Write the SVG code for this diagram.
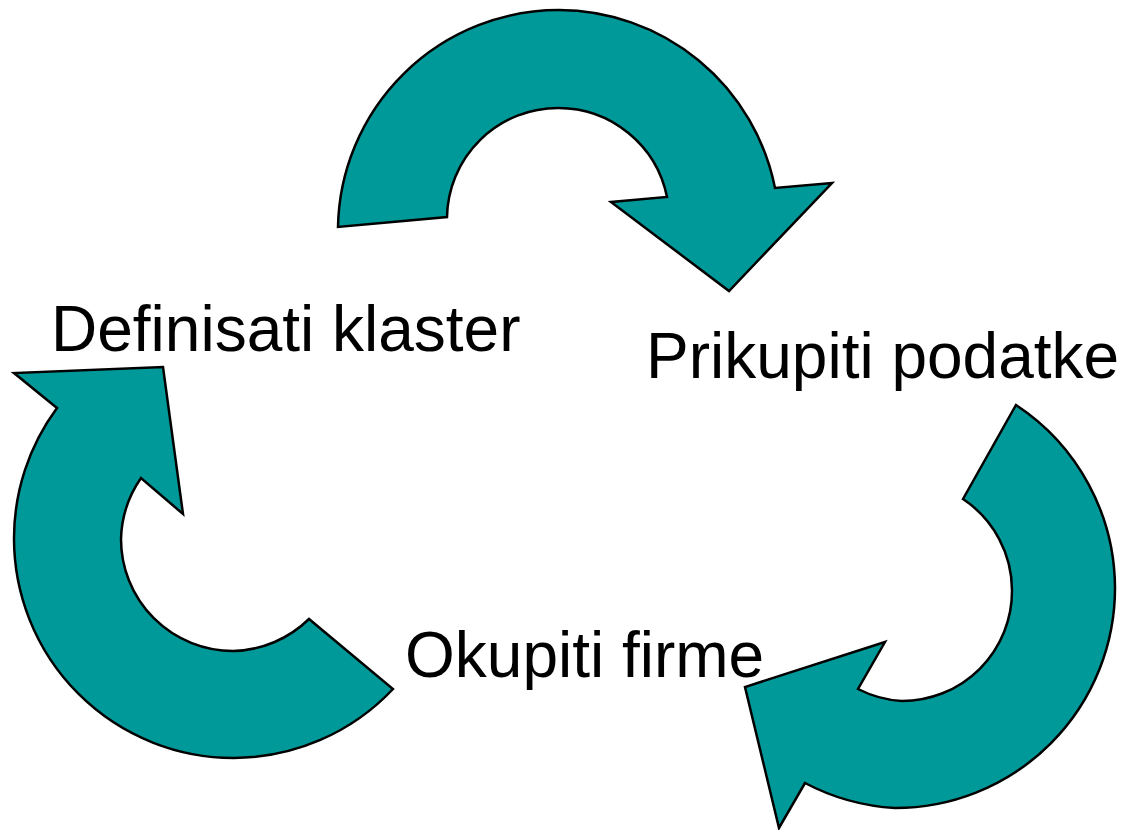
<svg xmlns="http://www.w3.org/2000/svg" width="1121" height="830" viewBox="0 0 1121 830">
<style>
.arrow{fill:#009999;stroke:#000;stroke-width:2.5;stroke-linejoin:miter}
.lbl{font-family:"Liberation Sans",Arial,sans-serif;font-size:64px;fill:#000}
</style>
<rect width="1121" height="830" fill="#fff"/>
<g id="connectors">
<path id="arrow-top" class="arrow" d="M338,227 A221,221 0 0 1 559,10 A221,221 0 0 1 775,188 L832,183 L729,291 L611,202 L667,197 A111,111 0 0 0 558,108 A111,111 0 0 0 447,217 Z"/>
<path id="arrow-right" class="arrow" d="M1016,405 A220,220 0 0 1 1115,588 A220,220 0 0 1 895,808 A220,220 0 0 1 805,783 L779,828 L745,687 L885,642 L858,689 A110,110 0 0 0 902,701 A110,110 0 0 0 1012,591 A110,110 0 0 0 963,499 Z"/>
<path id="arrow-left" class="arrow" d="M57,408 L14,373 L163,367 L183,514 L141,478 A112,112 0 0 0 121,539 A112,112 0 0 0 233,651 A112,112 0 0 0 309,619 L393,689 A219.6,219.6 0 0 1 233.5,758 A219.6,219.6 0 0 1 14,538.6 A219.6,219.6 0 0 1 57,408 Z"/>
</g>
<g id="node-definisati"><text class="lbl" x="51" y="351">Definisati klaster</text></g>
<g id="node-prikupiti"><text class="lbl" x="646" y="378">Prikupiti podatke</text></g>
<g id="node-okupiti"><text class="lbl" x="405" y="677">Okupiti firme</text></g>
</svg>
